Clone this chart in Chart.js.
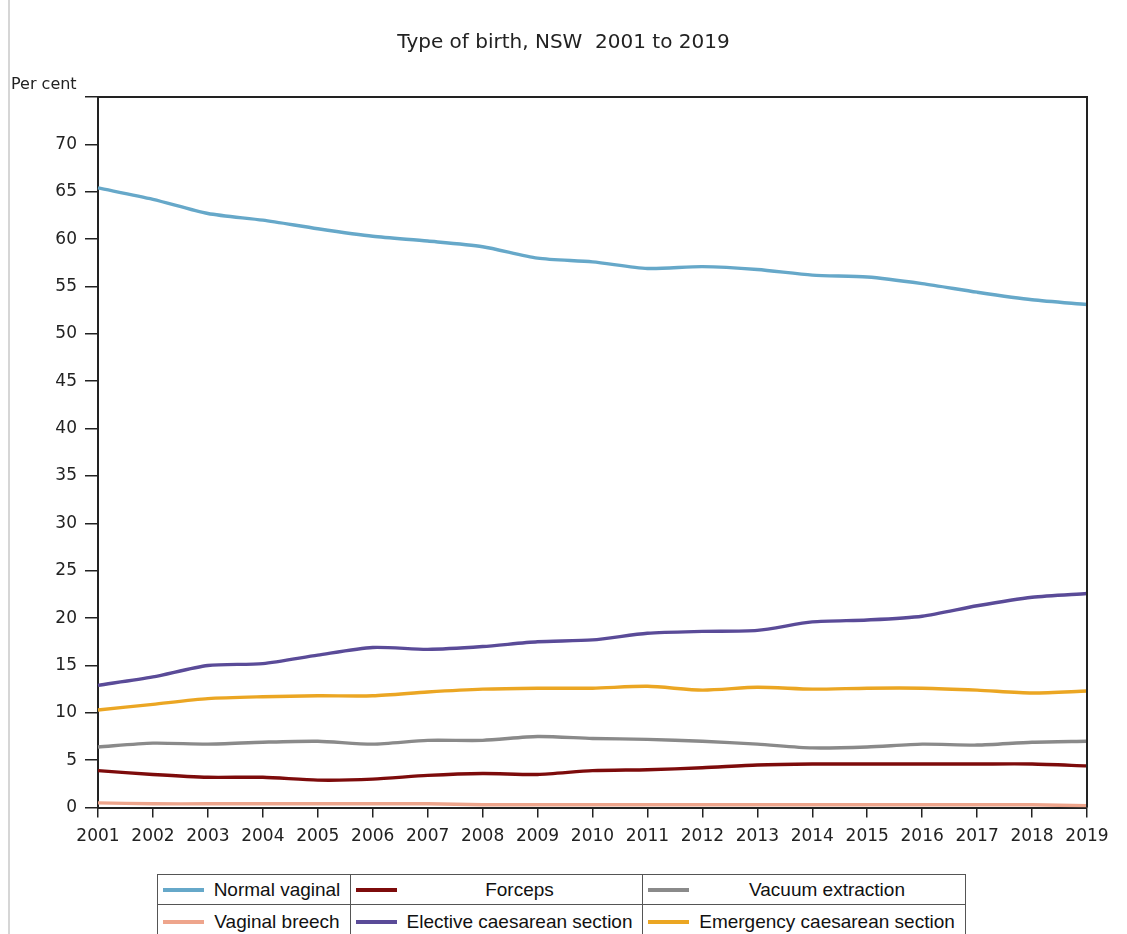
<!DOCTYPE html>
<html>
<head>
<meta charset="utf-8">
<script src="https://cdn.jsdelivr.net/npm/chart.js@4/dist/chart.umd.min.js"></script>
<style>
  html, body { margin: 0; padding: 0; background: #fff; width: 1127px; height: 934px; overflow: hidden; }
  #wrap { position: relative; width: 1127px; height: 934px; }
  #edge { position: absolute; left: 8px; top: 0; width: 2px; height: 934px; background: #d6d6d6; }
  #chart { position: absolute; left: 0; top: 0; }
  #legend { position: absolute; left: 157px; top: 874px; border-collapse: collapse;
            font-family: "Liberation Sans", Arial, sans-serif; font-size: 19px; color: #111; }
  #legend td { border: 1px solid #555; height: 29px; padding: 0; }
  #legend .cell { display: flex; align-items: center; height: 100%; }
  #legend .sw { display: inline-block; width: 41px; height: 4px; margin-left: 5px; flex: none; }
  #legend .tx { flex: 1; text-align: center; white-space: nowrap; }
</style>
</head>
<body>
<div id="wrap">
  <div id="edge"></div>
  <canvas id="chart" width="1127" height="865"></canvas>
  <table id="legend"></table>
</div>
<script>
// Birth type shares, NSW, per cent of all births
const years = ['2001','2002','2003','2004','2005','2006','2007','2008','2009','2010',
               '2011','2012','2013','2014','2015','2016','2017','2018','2019'];
const normalVaginal = [65.4,64.2,62.7,62.0,61.1,60.3,59.8,59.2,58.0,57.6,56.9,57.1,56.8,56.2,56.0,55.3,54.4,53.6,53.1];
const forceps       = [3.9,3.5,3.2,3.2,2.9,3.0,3.4,3.6,3.5,3.9,4.0,4.2,4.5,4.6,4.6,4.6,4.6,4.6,4.4];
const vacuum        = [6.4,6.8,6.7,6.9,7.0,6.7,7.1,7.1,7.5,7.3,7.2,7.0,6.7,6.3,6.4,6.7,6.6,6.9,7.0];
const breech        = [0.5,0.4,0.4,0.4,0.4,0.4,0.4,0.3,0.3,0.3,0.3,0.3,0.3,0.3,0.3,0.3,0.3,0.3,0.2];
const elective      = [12.9,13.8,15.0,15.2,16.1,16.9,16.7,17.0,17.5,17.7,18.4,18.6,18.7,19.6,19.8,20.2,21.3,22.2,22.6];
const emergency     = [10.3,10.9,11.5,11.7,11.8,11.8,12.2,12.5,12.6,12.6,12.8,12.4,12.7,12.5,12.6,12.6,12.4,12.1,12.3];
const yTicks = [0,5,10,15,20,25,30,35,40,45,50,55,60,65,70];

const seriesNames  = ['Normal vaginal','Forceps','Vacuum extraction','Vaginal breech',
                      'Elective caesarean section','Emergency caesarean section'];
const seriesValues = [normalVaginal, forceps, vacuum, breech, elective, emergency];
const seriesColors = ['#66a8c9','#7d0b0b','#8a8a8a','#eea58c','#5a4b98','#eba623'];

const AXIS = '#222';
const FONT = '"DejaVu Sans", Verdana, sans-serif';

// Frame: top and right edges of the plot area, plus the "Per cent" caption
const framePlugin = {
  id: 'frame',
  afterDraw(chart) {
    const { ctx, chartArea: a } = chart;
    ctx.save();
    ctx.strokeStyle = AXIS;
    ctx.lineWidth = 2;
    ctx.beginPath();
    ctx.moveTo(a.left, a.top);
    ctx.lineTo(a.right, a.top);
    ctx.lineTo(a.right, a.bottom);
    ctx.stroke();
    ctx.fillStyle = AXIS;
    ctx.font = '16px ' + FONT;
    ctx.textBaseline = 'alphabetic';
    ctx.textAlign = 'left';
    ctx.fillText('Per cent', 11, 89);
    ctx.restore();
  }
};

const chart = new Chart(document.getElementById('chart'), {
  type: 'line',
  data: {
    labels: years,
    datasets: seriesNames.map((name, i) => ({
      label: name,
      data: seriesValues[i],
      borderColor: seriesColors[i],
      backgroundColor: seriesColors[i],
      borderWidth: 3.4,
      pointRadius: 0,
      pointHoverRadius: 0,
      tension: 0.25,
      fill: false
    }))
  },
  options: {
    responsive: false,
    animation: false,
    events: [],
    layout: { padding: { left: 40, right: 40, top: 0, bottom: 9 } },
    plugins: {
      legend: { display: false },
      tooltip: { enabled: false },
      title: {
        display: true,
        text: 'Type of birth, NSW  2001 to 2019',
        color: AXIS,
        font: { family: FONT, size: 20, weight: 'normal' },
        padding: { top: 31, bottom: 42 }
      }
    },
    scales: {
      x: {
        offset: false,
        grid: { drawOnChartArea: false, drawTicks: true, tickLength: 10, color: AXIS, lineWidth: 1.5 },
        border: { display: true, color: AXIS, width: 2 },
        ticks: { color: AXIS, font: { family: FONT, size: 17 }, padding: 9, maxRotation: 0, autoSkip: false }
      },
      y: {
        min: 0, max: 75,
        afterFit(scale) { scale.width = 58; },
        afterBuildTicks(scale) {
          scale.ticks = yTicks.concat([75]).map(v => ({ value: v }));
        },
        grid: { drawOnChartArea: false, drawTicks: true, tickLength: 13, color: AXIS, lineWidth: 1.5 },
        border: { display: true, color: AXIS, width: 2 },
        ticks: {
          color: AXIS, font: { family: FONT, size: 17 }, padding: 8,
          callback: v => (yTicks.includes(v) ? String(v) : '')
        }
      }
    }
  },
  plugins: [framePlugin]
});

// Table legend built from the chart's datasets, three entries per row
const table = document.getElementById('legend');
const colWidths = [192, 291, 322];
for (let r = 0; r < 2; r++) {
  const tr = document.createElement('tr');
  for (let c = 0; c < 3; c++) {
    const ds = chart.data.datasets[r * 3 + c];
    const td = document.createElement('td');
    td.style.width = colWidths[c] + 'px';
    if (r === 1) td.style.height = '34px';
    const cell = document.createElement('div');
    cell.className = 'cell';
    const sw = document.createElement('span');
    sw.className = 'sw';
    sw.style.background = ds.borderColor;
    const tx = document.createElement('span');
    tx.className = 'tx';
    tx.textContent = ds.label;
    cell.appendChild(sw);
    cell.appendChild(tx);
    td.appendChild(cell);
    tr.appendChild(td);
  }
  table.appendChild(tr);
}
</script>
</body>
</html>
